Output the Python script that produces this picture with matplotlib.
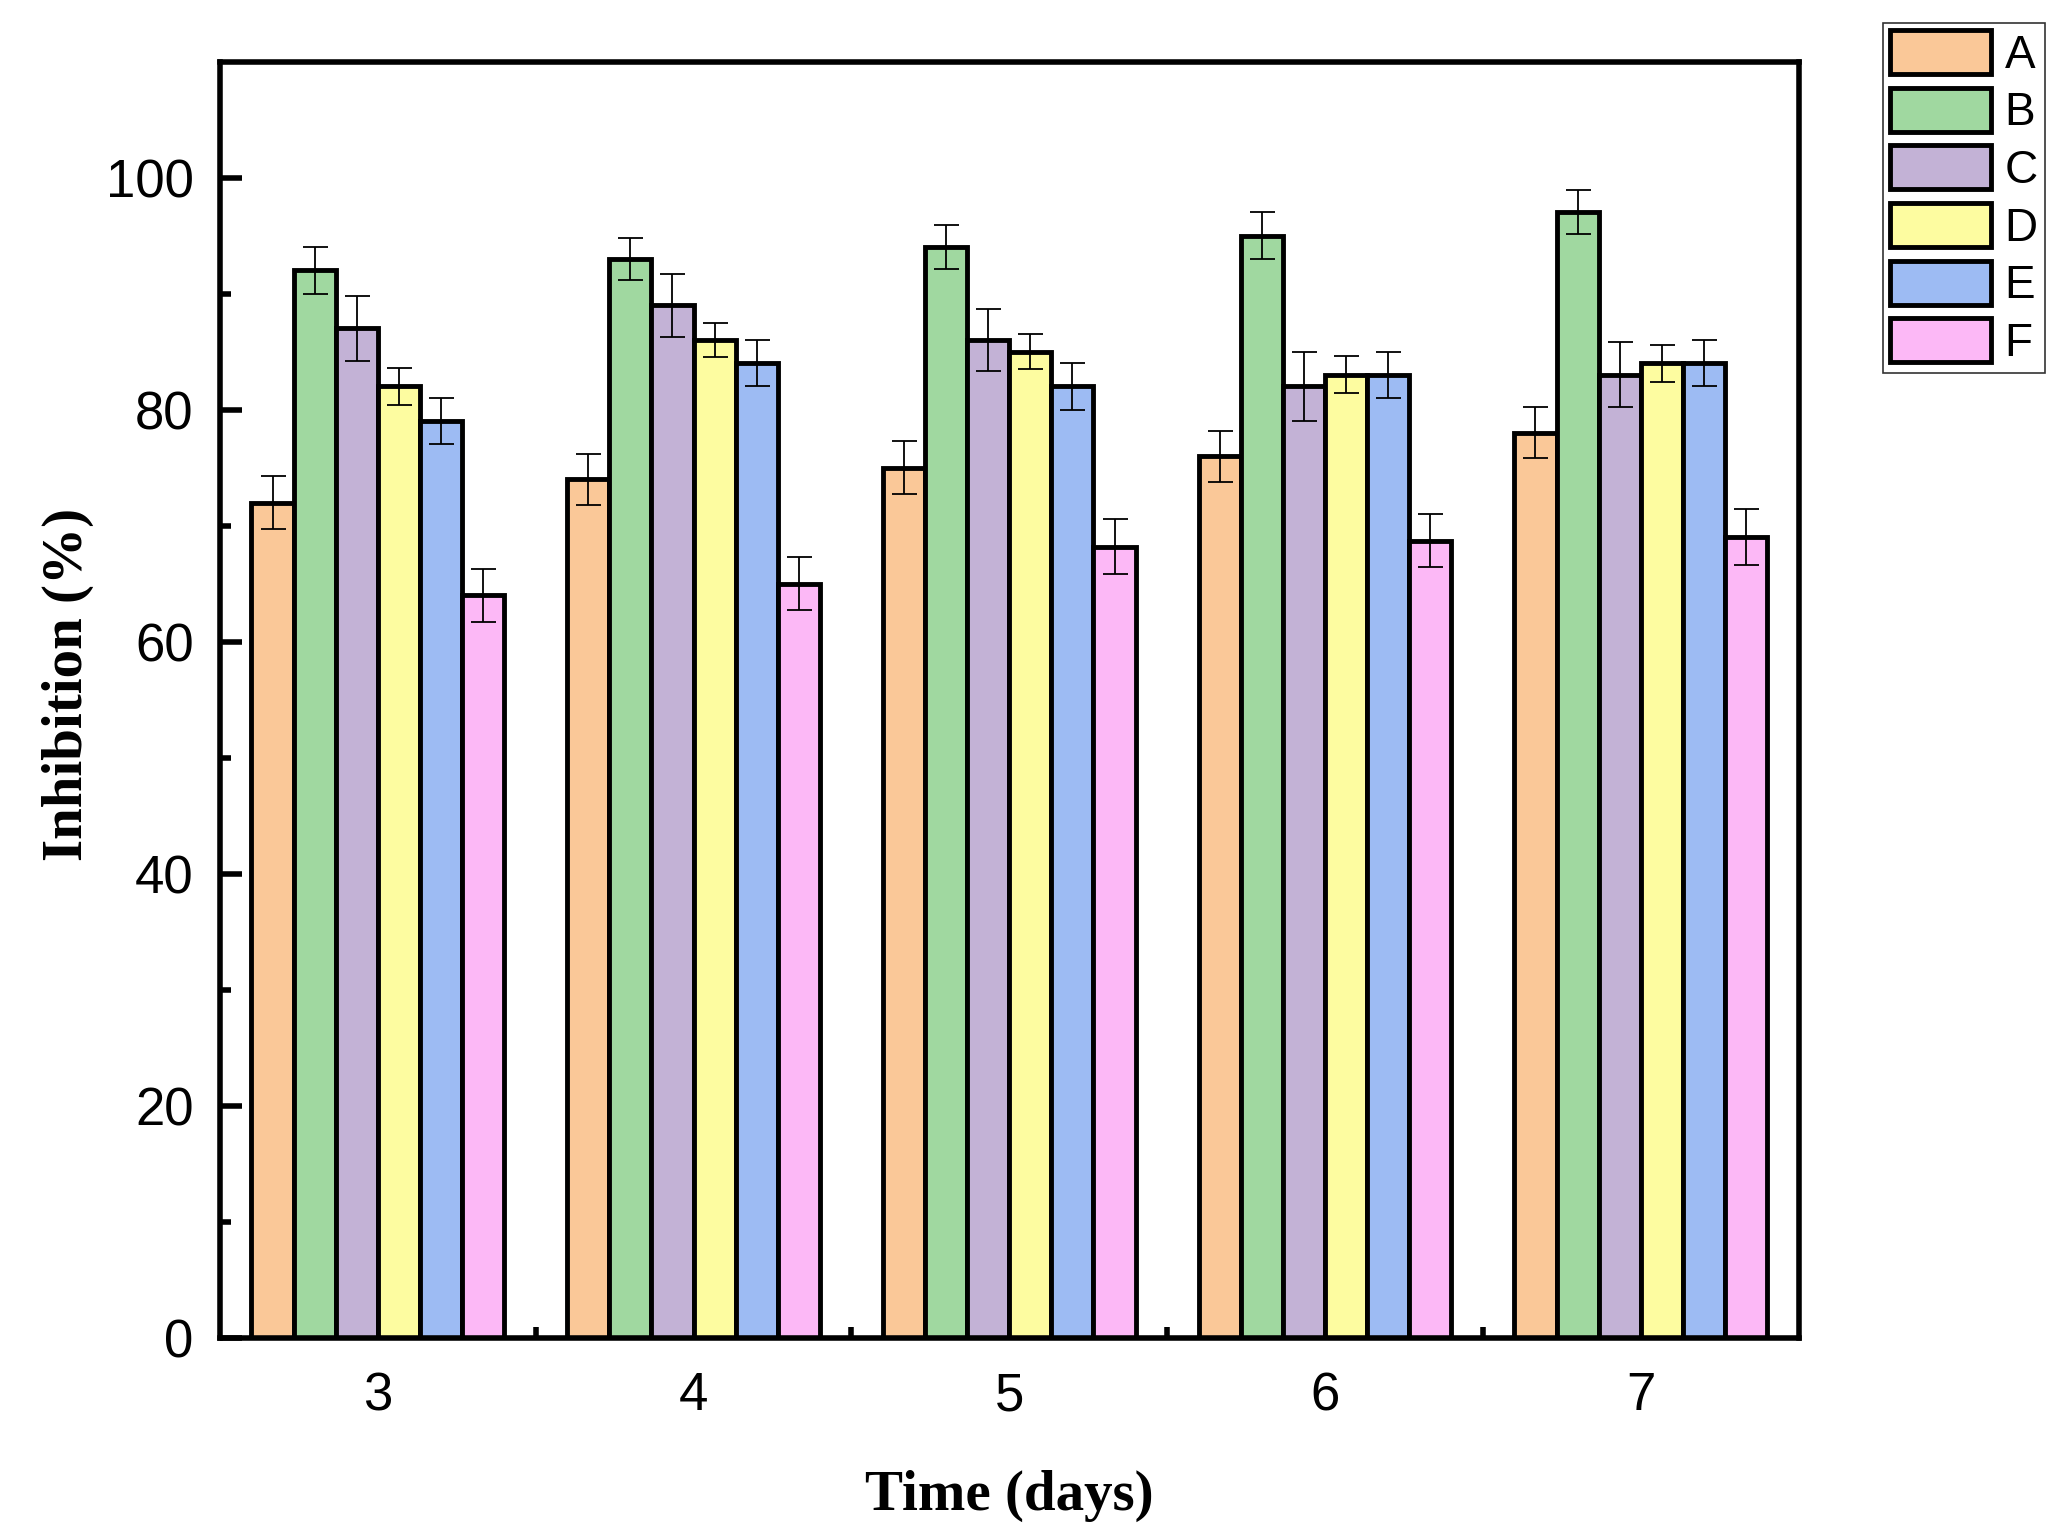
import numpy as np
import matplotlib.pyplot as plt

days = [3, 4, 5, 6, 7]
groups = ['A', 'B', 'C', 'D', 'E', 'F']

# mean inhibition (%) per group, one value per day
A = [72, 74, 75, 76, 78]
B = [92, 93, 94, 95, 97]
C = [87, 89, 86, 82, 83]
D = [82, 86, 85, 83, 84]
E = [79, 84, 82, 83, 84]
F = [64, 65, 68.2, 68.7, 69]

# error bars
A_err = [2.3, 2.2, 2.3, 2.2, 2.2]
B_err = [2.0, 1.8, 1.9, 2.0, 1.9]
C_err = [2.8, 2.7, 2.7, 3.0, 2.8]
D_err = [1.6, 1.5, 1.5, 1.6, 1.6]
E_err = [2.0, 2.0, 2.0, 2.0, 2.0]
F_err = [2.3, 2.3, 2.4, 2.3, 2.4]

colors = ['#FAC898', '#A0D8A0', '#C3B2D6', '#FDFCA0', '#9DBBF3', '#FCB8F6']

plt.rcParams['font.family'] = ['Liberation Sans', 'DejaVu Sans']

fig = plt.figure(figsize=(20.65, 15.38), dpi=100)
ax = fig.add_axes([0.1065, 0.130, 0.7645, 0.830])

vals = [A, B, C, D, E, F]
errs = [A_err, B_err, C_err, D_err, E_err, F_err]
w = 0.8 / 6
x = np.array(days, dtype=float)
for i in range(6):
    pos = x - 0.4 + w * (i + 0.5)
    ax.bar(pos, vals[i], w, color=colors[i], edgecolor='black', linewidth=3.5,
           label=groups[i], zorder=2)
    ax.errorbar(pos, vals[i], yerr=errs[i], fmt='none', ecolor='black',
                elinewidth=1.3, capsize=9, capthick=1.3, zorder=3)

ax.set_xlim(2.5, 7.5)
ax.set_ylim(0, 110)
ax.set_xticks(days)
ax.set_xticks([3.5, 4.5, 5.5, 6.5], minor=True)
ax.set_yticks([0, 20, 40, 60, 80, 100])
ax.set_yticks([10, 30, 50, 70, 90], minor=True)
ax.tick_params(which='both', direction='in', width=4, labelsize=38)
ax.tick_params(which='major', length=16)
ax.tick_params(which='minor', length=8)
ax.tick_params(axis='y', pad=19)
ax.tick_params(axis='x', pad=24)
for s in ax.spines.values():
    s.set_linewidth(4)

ax.set_xlabel('Time (days)', family='Liberation Serif', fontweight='bold',
              fontsize=41)
ax.set_ylabel('Inhibition (%)', family='Liberation Serif', fontweight='bold',
              fontsize=41)
ax.xaxis.set_label_coords(0.5, -0.103)
ax.yaxis.set_label_coords(-0.080, 0.512)

leg = ax.legend(loc='upper left', bbox_to_anchor=(0.9119, 0.985),
                bbox_transform=fig.transFigure, fontsize=33, frameon=True,
                fancybox=False, edgecolor='black', handlelength=2.2,
                handleheight=1.1, labelspacing=0.22, handletextpad=0.3,
                borderpad=0.15, borderaxespad=0)
leg.get_frame().set_linewidth(1.2)

fig.savefig('out.png', dpi=100)
